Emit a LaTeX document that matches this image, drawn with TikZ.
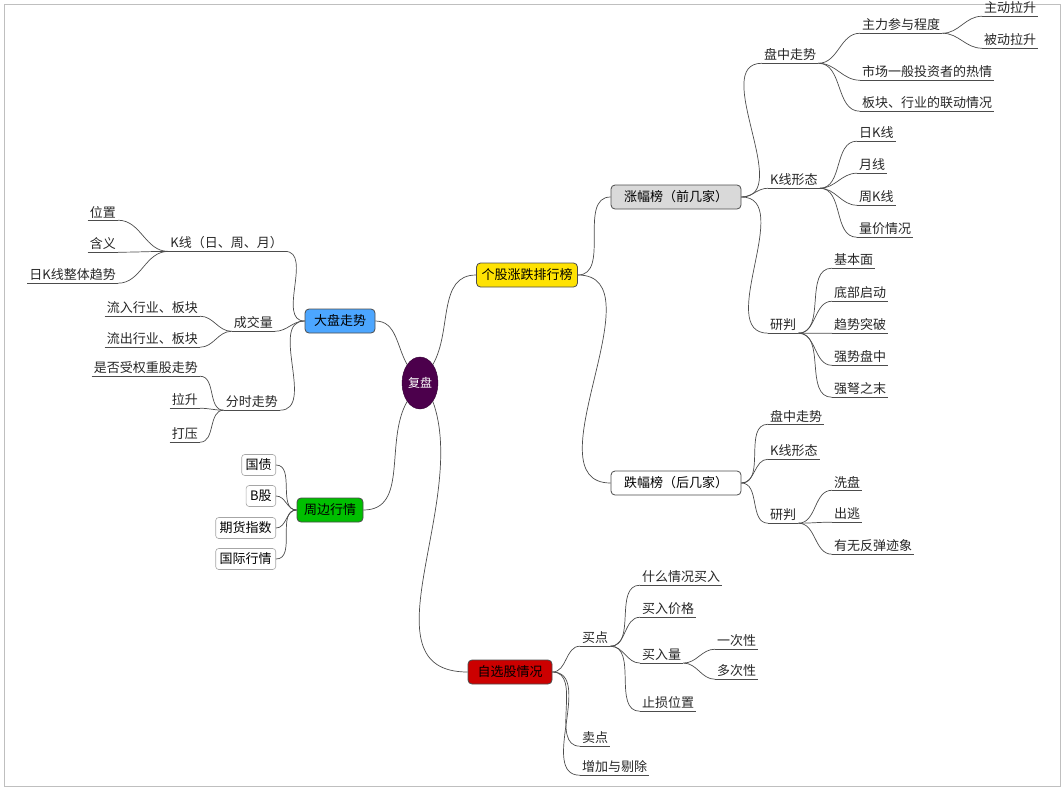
\documentclass[tikz,border=0pt]{standalone}
\usepackage{fontspec}
\newfontfamily\cjk{Noto Sans CJK SC}
\usetikzlibrary{shapes.geometric}

\tikzset{
  leaf/.style={font=\cjk\fontsize{13}{15}\selectfont, inner sep=2pt, text=black!85},
  topic/.style={draw=gray!60!black, rounded corners=4pt, line width=0.8pt, minimum height=24pt, inner xsep=5pt, font=\cjk\fontsize{13}{15}\selectfont},
  tag/.style={draw=gray!70, rounded corners=3pt, line width=0.6pt, minimum height=21pt, inner xsep=4pt, font=\cjk\fontsize{13}{15}\selectfont},
  link/.style={draw=black!70, line width=0.7pt},
}

\begin{document}
\begin{tikzpicture}[x=1pt,y=-1pt]
	\useasboundingbox (0,0) rectangle (1064,790);
	\draw[gray!50, line width=0.8pt] (4,4) rectangle (1060,786);
	%Root and main topics
	\node [ellipse, fill=violet!60!black, draw=violet!40!black, minimum width=36pt, minimum height=52pt, inner sep=0pt, text=white, font=\cjk\fontsize{12}{14}\selectfont] (root) at (420,383) {复盘};
	\node [topic, fill=yellow!85!orange] (gegu) at (527,275) {个股涨跌排行榜};
	\node [topic, fill=gray!30, minimum width=130pt] (zhang) at (676,197) {涨幅榜（前几家）};
	\node [topic, fill=white, minimum width=130pt] (die) at (676,483) {跌幅榜（后几家）};
	\node [topic, fill=blue!50!cyan!70, minimum width=70pt] (dapan) at (340,321) {大盘走势};
	\node [topic, fill=green!75!black, minimum width=66pt] (zhoubian) at (330,510) {周边行情};
	\node [topic, fill=red!80!black, minimum width=84pt] (zixuan) at (510,672) {自选股情况};
	%Right side leaves
	\foreach \n/\x/\y/\t in {
		pz1/762/55/盘中走势, zl/860/25/主力参与程度, zd/982/8/主动拉升, bd/982/40/被动拉升,
		sc/860/72/市场一般投资者的热情, bk/860/103/板块、行业的联动情况,
		kx1/768/180/K线形态, rk/857/133/日K线, yx/857/165/月线, zk/857/197/周K线, lj/857/229/量价情况,
		yp1/768/325/研判, jb/832/260/基本面, db/832/293/底部启动, qs/832/325/趋势突破, qp/832/357/强势盘中, qn/832/389/强弩之末,
		pz2/768/416/盘中走势, kx2/768/451/K线形态, yp2/768/515/研判, xp/832/482/洗盘, ct/832/514/出逃, yw/832/546/有无反弹迹象,
		md/580/638/买点, sm/640/577/什么情况买入, mj/640/609/买入价格, ml/640/655/买入量, yc/715/641/一次性, dc/715/671/多次性, zs/640/703/止损位置,
		mc/580/738/卖点, zj/580/767/增加与剔除}
		\node [leaf, anchor=west] (\n) at (\x,\y) {\t};
	%Left side leaves
	\foreach \n/\x/\y/\t in {
		kxr/285/243/K线（日、周、月）, wz/118/212/位置, hy/118/244/含义, rz/118/275/日K线整体趋势,
		cj/275/323/成交量, lr/200/308/流入行业、板块, lc/200/339/流出行业、板块,
		fs/280/402/分时走势, sf/200/368/是否受权重股走势, ls/200/400/拉升, dy/200/434/打压}
		\node [leaf, anchor=east] (\n) at (\x,\y) {\t};
	\foreach \n/\y/\t in {gz/465/国债, bg/496/B股, qh/528/期货指数, gj/559/国际行情}
		\node [tag, anchor=east] (\n) at (276,\y) {\t};
	%Underlines
	\foreach \n in {pz1,zl,zd,bd,sc,bk,kx1,rk,yx,zk,lj,yp1,jb,db,qs,qp,qn,pz2,kx2,yp2,xp,ct,yw,md,sm,mj,ml,yc,dc,zs,mc,zj,kxr,wz,hy,rz,cj,lr,lc,fs,sf,ls,dy}
		\draw[link] (\n.south west) -- (\n.south east);
	%Connecting topics
	\begin{scope}[link]
	\draw (root.north east) to[out=60,in=180] (gegu.west);
	\draw (root.north west) to[out=120,in=0] (dapan.east);
	\draw (root.south west) to[out=240,in=0] (zhoubian.east);
	\draw (root.south east) to[out=290,in=180] (zixuan.west);
	\draw (gegu.east) to[out=0,in=180] (zhang.west);
	\draw (gegu.east) to[out=0,in=180] (die.west);
	\foreach \c in {pz1,kx1,yp1} \draw (zhang.east) to[out=0,in=180] (\c.south west);
	\foreach \c in {pz2,kx2,yp2} \draw (die.east) to[out=0,in=180] (\c.south west);
	\foreach \c in {zl,sc,bk} \draw (pz1.south east) to[out=0,in=180] (\c.south west);
	\foreach \c in {zd,bd} \draw (zl.south east) to[out=0,in=180] (\c.south west);
	\foreach \c in {rk,yx,zk,lj} \draw (kx1.south east) to[out=0,in=180] (\c.south west);
	\foreach \c in {jb,db,qs,qp,qn} \draw (yp1.south east) to[out=0,in=180] (\c.south west);
	\foreach \c in {xp,ct,yw} \draw (yp2.south east) to[out=0,in=180] (\c.south west);
	\foreach \c in {md,mc,zj} \draw (zixuan.east) to[out=0,in=180] (\c.south west);
	\foreach \c in {sm,mj,ml,zs} \draw (md.south east) to[out=0,in=180] (\c.south west);
	\foreach \c in {yc,dc} \draw (ml.south east) to[out=0,in=180] (\c.south west);
	\foreach \c in {kxr,cj,fs} \draw (dapan.west) to[out=180,in=0] (\c.south east);
	\foreach \c in {wz,hy,rz} \draw (kxr.south west) to[out=180,in=0] (\c.south east);
	\foreach \c in {lr,lc} \draw (cj.south west) to[out=180,in=0] (\c.south east);
	\foreach \c in {sf,ls,dy} \draw (fs.south west) to[out=180,in=0] (\c.south east);
	\foreach \c in {gz,bg,qh,gj} \draw (zhoubian.west) to[out=180,in=0] (\c.east);
	\end{scope}
\end{tikzpicture}
\end{document}
